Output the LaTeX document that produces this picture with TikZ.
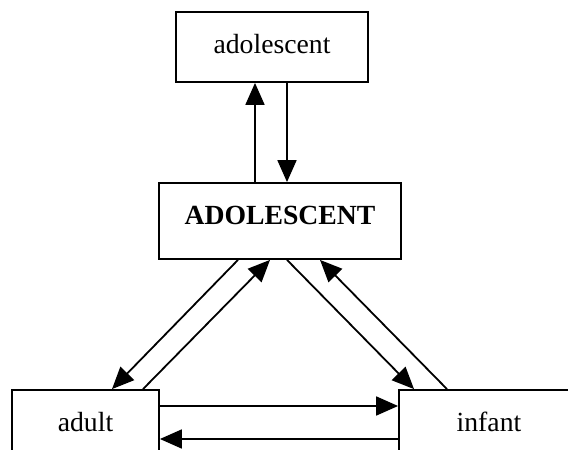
\documentclass[tikz,border=0pt]{standalone}
\usepackage{fontspec}
\setmainfont{Liberation Serif}
\usetikzlibrary{arrows.meta}
\begin{document}
\begin{tikzpicture}[x=1pt,y=-1pt,
  box/.style={draw, line width=1.8pt, inner sep=0pt,
    font=\fontsize{27.7}{33}\selectfont, text height=20pt, text depth=8pt},
  link/.style={line width=1.8pt, -{Triangle[length=22pt,width=19pt]}}]
  \useasboundingbox (0,0) rectangle (568,450);
  \clip (0,0) rectangle (568,450);

  % the four boxes
  \node[box, minimum width=192pt, minimum height=70pt] (top) at (272,47) {adolescent};
  \node[box, minimum width=242pt, minimum height=76pt, text depth=14pt,
        font=\fontsize{27.7}{33}\selectfont\bfseries] (mid) at (280,221) {ADOLESCENT};
  \node[box, minimum width=147pt, minimum height=70pt] (adult) at (85.5,425) {adult};
  \node[box, minimum width=180pt, minimum height=70pt] (infant) at (489,425) {infant};

  % vertical pair between the upper boxes
  \coordinate (u1) at ([xshift=-17pt]top.south);
  \coordinate (u2) at ([xshift=15pt]top.south);
  \draw[link] (u1 |- mid.north) -- (u1);
  \draw[link] (u2) -- (u2 |- mid.north);

  % diagonal pairs
  \draw[link] ([xshift=-42pt]mid.south) -- ([xshift=26.5pt]adult.north);
  \draw[link] ([xshift=57.5pt]adult.north) -- ([xshift=-10pt]mid.south);
  \draw[link] ([xshift=7pt]mid.south) -- ([xshift=-75pt]infant.north);
  \draw[link] ([xshift=-42pt]infant.north) -- ([xshift=40pt]mid.south);

  % horizontal pair between the lower boxes
  \coordinate (h1) at ([yshift=19pt]adult.east);
  \coordinate (h2) at ([yshift=-14pt]adult.east);
  \draw[link] (h1) -- (h1 -| infant.west);
  \draw[link] (h2 -| infant.west) -- (h2);
\end{tikzpicture}
\end{document}
